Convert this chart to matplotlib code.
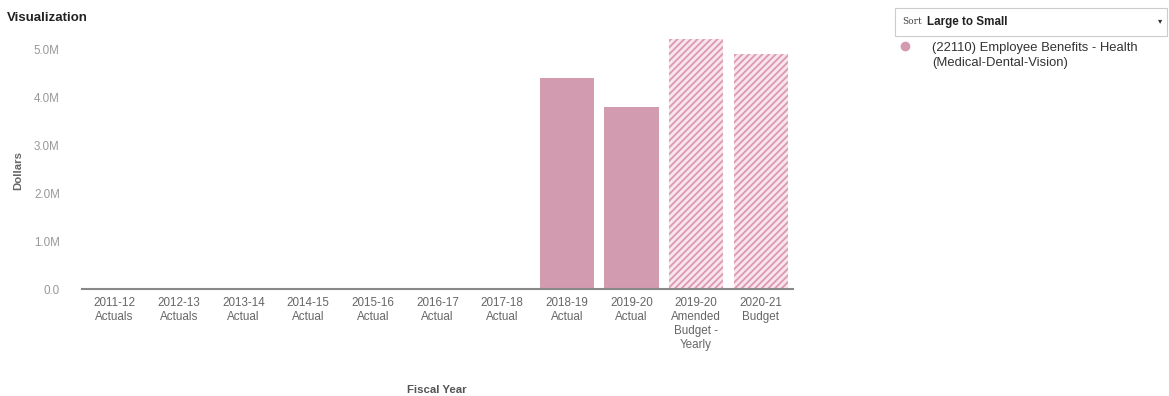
import matplotlib.pyplot as plt
from matplotlib.patches import Rectangle
import numpy as np

plt.rcParams['font.family'] = ['Liberation Sans', 'DejaVu Sans']
plt.rcParams['hatch.color'] = 'white'
plt.rcParams['hatch.linewidth'] = 2.0

# fiscal years on the x axis
years = ['2011-12\nActuals', '2012-13\nActuals', '2013-14\nActual', '2014-15\nActual',
         '2015-16\nActual', '2016-17\nActual', '2017-18\nActual', '2018-19\nActual',
         '2019-20\nActual', '2019-20\nAmended\nBudget -\nYearly', '2020-21\nBudget']
# dollars per year (millions), budget columns are hatched
dollars = [0, 0, 0, 0, 0, 0, 0, 4.41, 3.81, 5.23, 4.92]
is_budget = [False] * 9 + [True, True]

ytick_vals = [0, 1, 2, 3, 4, 5]
ytick_text = ['0.0', '1.0M', '2.0M', '3.0M', '4.0M', '5.0M']

W, H = 1169, 396
fig = plt.figure(figsize=(W / 100, H / 100), dpi=100)

# axes placed in pixel terms: x from 82 to 793, baseline at y=289, 5.0M at y=50
ymax = 5.4
px_per_m = (289 - 50) / 5.0
top = 289 - ymax * px_per_m
ax = fig.add_axes([82 / W, 1 - 289 / H, (793 - 82) / W, (289 - top) / H])

bar_col = '#d39bb0'
hatch_face = '#dd9cb4'
x = np.arange(len(years))
for xi, v, b in zip(x, dollars, is_budget):
    if b:
        ax.bar(xi, v, width=0.84, color=hatch_face, hatch='/////', edgecolor='#f8e6ec', linewidth=0)
    else:
        ax.bar(xi, v, width=0.84, color=bar_col, linewidth=0)

ax.set_xlim(-0.5, len(years) - 0.5)
ax.set_ylim(0, ymax)
for s in ['top', 'right', 'left']:
    ax.spines[s].set_visible(False)
ax.spines['bottom'].set_color('#888888')
ax.spines['bottom'].set_linewidth(1.5)

ax.set_xticks(x)
ax.set_xticklabels(years, fontsize=8.4, color='#666666', linespacing=1.2)
ax.set_yticks(ytick_vals)
ax.set_yticklabels(ytick_text, fontsize=8.4, color='#999999')
ax.tick_params(axis='both', length=0, pad=6)
ax.tick_params(axis='y', pad=16)

fig.text(437 / W, 1 - 390 / H, 'Fiscal Year', ha='center', va='center',
         fontsize=8.2, color='#555555', fontweight='bold')
fig.text(18 / W, 1 - 170 / H, 'Dollars', ha='center', va='center', rotation=90,
         fontsize=8.2, color='#666666', fontweight='bold')
fig.text(7 / W, 1 - 18 / H, 'Visualization', ha='left', va='center',
         fontsize=9.5, color='#222222', fontweight='bold')

# sort dropdown box
fig.patches.append(Rectangle((895 / W, 1 - 36 / H), 272 / W, 28 / H,
                             transform=fig.transFigure, facecolor='white',
                             edgecolor='#cccccc', linewidth=0.8))
fig.text(902 / W, 1 - 22 / H, 'Sort', ha='left', va='center', fontsize=6.5,
         color='#444444', family=['DejaVu Serif'])
fig.text(927 / W, 1 - 22 / H, 'Large to Small', ha='left', va='center', fontsize=8.4,
         color='#222222', fontweight='bold')
fig.text(1160 / W, 1 - 22 / H, '\u25be', ha='center', va='center', fontsize=6,
         color='#333333')

# legend entry
fig.add_artist(plt.Line2D([905 / W], [1 - 46 / H], marker='o', markersize=6,
                          color=bar_col, transform=fig.transFigure))
fig.text(932 / W, 1 - 55.5 / H, '(22110) Employee Benefits - Health\n(Medical-Dental-Vision)',
         ha='left', va='center', fontsize=9.4, color='#333333', linespacing=1.3)

fig.savefig('out.png', dpi=100)
